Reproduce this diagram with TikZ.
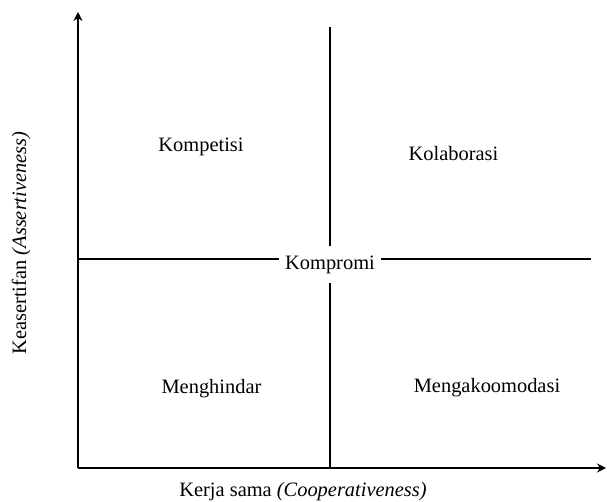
\documentclass[tikz,border=0pt]{standalone}
\usepackage{fontspec}
\setmainfont{Liberation Serif}
\usetikzlibrary{arrows.meta}
\begin{document}
\begin{tikzpicture}[x=1bp,y=-1bp,
  axis/.style={line width=1.4bp,-{Stealth[length=9bp,width=9bp,inset=3bp]}},
  divider/.style={line width=1.3bp},
  quadrant/.style={font=\fontsize{20.5}{24}\selectfont,anchor=base,inner sep=0pt}]
\useasboundingbox (0,0) rectangle (609,502);
% axes and dividing lines
\coordinate (O) at (78,468);
\coordinate (ytip) at (78,12);
\coordinate (xtip) at (606,468);
\coordinate (vtop) at (330,27);
\coordinate (vbot) at (330,468);
\coordinate (hl) at (78,259);
\coordinate (hr) at (591,259);
\draw[divider] (vtop) -- (vbot);
\draw[divider] (hl) -- (hr);
\draw[axis] (O) -- (ytip);
\draw[axis] (O) -- (xtip);
% quadrant labels
\node[quadrant] (kompetisi) at (201,152) {Kompetisi};
\node[quadrant] (kolaborasi) at (453.5,161) {Kolaborasi};
\node[quadrant] (menghindar) at (211.5,393) {Menghindar};
\node[quadrant] (mengakomodasi) at (487,392) {Mengakoomodasi};
\node[quadrant,fill=white,inner xsep=6bp,inner ysep=9.5bp] (kompromi) at (330,269) {Kompromi};
% axis titles
\node[quadrant] (xlabel) at (303,496.5) {Kerja sama \textit{(Cooperativeness)}};
\node[quadrant,rotate=90] (ylabel) at (26,243) {Keasertifan \textit{(Assertiveness)}};
\end{tikzpicture}
\end{document}
